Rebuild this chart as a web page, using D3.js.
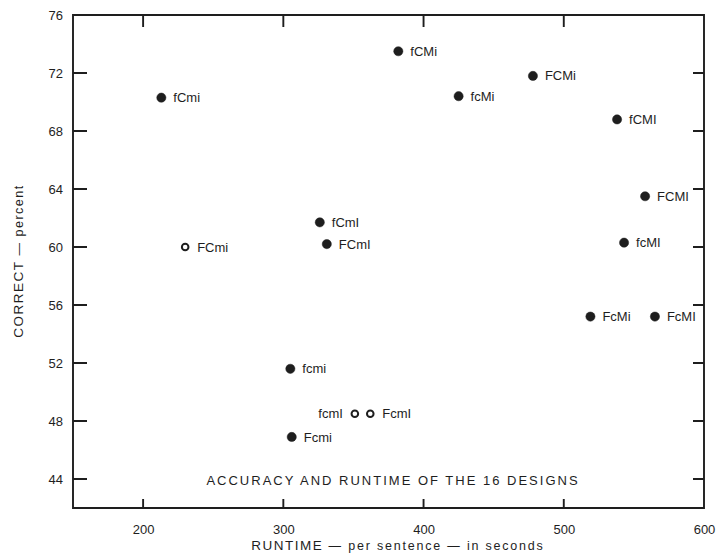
<!DOCTYPE html>
<html>
<head>
<meta charset="utf-8">
<script src="https://cdn.jsdelivr.net/npm/d3@7"></script>
<style>
  body { margin: 0; background: #fff; }
  svg { font-family: "Liberation Sans", Arial, sans-serif; }
</style>
</head>
<body>
<svg id="chart" width="723" height="555"></svg>
<script>
// the 16 designs
var designs = ['fCmi', 'FCmi', 'fCmI', 'FCmI', 'fCMi', 'FCMi', 'fcMi', 'fCMI',
  'FCMI', 'fcMI', 'FcMi', 'FcMI', 'fcmi', 'Fcmi', 'fcmI', 'FcmI']
var runtime = [213, 230, 326, 331, 382, 478, 425, 538,
  558, 543, 519, 565, 305, 306, 351, 362]
var correct = [70.3, 60.0, 61.7, 60.2, 73.5, 71.8, 70.4, 68.8,
  63.5, 60.3, 55.2, 55.2, 51.6, 46.9, 48.5, 48.5]
var hollow = ['FCmi', 'fcmI', 'FcmI']
var labelLeft = ['fcmI']

var xTicks = [200, 300, 400, 500, 600]
var yTicks = [44, 48, 52, 56, 60, 64, 68, 72, 76]

var svg = d3.select('#chart')
var ink = '#1e1e1e'

var x = d3.scaleLinear().domain([150, 600]).range([73, 704])
var y = d3.scaleLinear().domain([42, 76]).range([508, 15])
var xL = x.range()[0], xR = x.range()[1]
var yB = y.range()[0], yT = y.range()[1]

// tick labels from the axes
svg.append('g')
  .attr('transform', 'translate(' + xL + ',0)')
  .call(d3.axisLeft(y).tickValues(yTicks).tickSize(0).tickPadding(10))
  .call(g => g.select('.domain').remove())
  .call(g => g.selectAll('text').attr('font-size', 13).attr('fill', ink)
    .attr('font-family', '"Liberation Sans", Arial, sans-serif'))

svg.append('g')
  .attr('transform', 'translate(0,' + yB + ')')
  .call(d3.axisBottom(x).tickValues(xTicks).tickSize(0).tickPadding(17))
  .call(g => g.select('.domain').remove())
  .call(g => g.selectAll('text').attr('font-size', 13).attr('fill', ink)
    .attr('font-family', '"Liberation Sans", Arial, sans-serif'))

// frame plus inward tick marks, all in one path
var p = d3.path()
p.rect(xL, yT, xR - xL, yB - yT)
yTicks.slice(0, -1).forEach(function(d) {
  p.moveTo(xL, y(d)); p.lineTo(xL + 14, y(d))
  p.moveTo(xR, y(d)); p.lineTo(xR - 11, y(d))
})
xTicks.slice(0, -1).forEach(function(d) {
  p.moveTo(x(d), yT); p.lineTo(x(d), yT + 12)
  p.moveTo(x(d), yB); p.lineTo(x(d), yB - 9)
})
svg.append('path')
  .attr('d', p.toString())
  .style('fill', 'none').style('stroke', ink).style('stroke-width', '1.9px')

// points
var pts = svg.append('g').selectAll('g')
  .data(designs)
  .enter()
  .append('g')
  .attr('transform', (d, i) => 'translate(' + x(runtime[i]) + ',' + y(correct[i]) + ')')

pts.append('circle')
  .attr('r', d => hollow.includes(d) ? 3.3 : 4.6)
  .attr('fill', d => hollow.includes(d) ? '#fff' : ink)
  .attr('stroke', ink)
  .attr('stroke-width', d => hollow.includes(d) ? 2 : 0.5)

pts.append('text')
  .attr('x', d => labelLeft.includes(d) ? -12 : 12)
  .attr('dy', '0.35em')
  .attr('text-anchor', d => labelLeft.includes(d) ? 'end' : 'start')
  .attr('font-size', 13)
  .attr('fill', ink)
  .text(d => d)

// caption inside the plot
svg.append('text')
  .attr('x', 393).attr('y', 485)
  .attr('text-anchor', 'middle')
  .attr('font-size', 13)
  .attr('letter-spacing', 2)
  .attr('fill', ink)
  .text('ACCURACY AND RUNTIME OF THE 16 DESIGNS')

// axis titles
var xt = svg.append('text')
  .attr('x', 398).attr('y', 550)
  .attr('text-anchor', 'middle')
  .attr('fill', ink)
xt.append('tspan').attr('font-size', 13.5).attr('letter-spacing', 1.5).text('RUNTIME')
xt.append('tspan').attr('font-size', 12.5).attr('letter-spacing', 1.8).text(' \u2014 per sentence \u2014 in seconds')

var yt = svg.append('text')
  .attr('transform', 'translate(23,261) rotate(-90)')
  .attr('text-anchor', 'middle')
  .attr('fill', ink)
yt.append('tspan').attr('font-size', 13.5).attr('letter-spacing', 1.5).text('CORRECT')
yt.append('tspan').attr('font-size', 12.5).attr('letter-spacing', 1.5).text(' \u2014 percent')
</script>
</body>
</html>
